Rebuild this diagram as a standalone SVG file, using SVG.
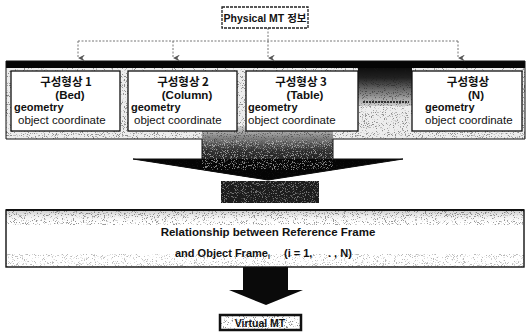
<svg xmlns="http://www.w3.org/2000/svg" width="527" height="333" viewBox="0 0 527 333">
<defs>
<style>
.t{font-family:"Liberation Sans",Arial,"Noto Sans CJK KR",sans-serif;font-size:11px;fill:#111}
.b{font-weight:bold}
.k{font-family:"Noto Sans CJK KR","Liberation Sans",sans-serif;font-size:11.5px;fill:#111;font-weight:bold}
.box{fill:#fff;stroke:#111;stroke-width:1.3}
.dash{fill:none;stroke:#777;stroke-width:1;stroke-dasharray:2 1.5}
</style>
<filter id="speck" filterUnits="objectBoundingBox" x="0" y="0" width="1" height="1" color-interpolation-filters="sRGB">
<feTurbulence type="fractalNoise" baseFrequency="1.1" numOctaves="2" seed="7"/>
<feColorMatrix type="matrix" values="0 0 0 0 0.1  0 0 0 0 0.1  0 0 0 0 0.1  0 0 0 9 -5.3"/>
<feComposite in2="SourceAlpha" operator="in"/>
</filter>
<filter id="lspeck" filterUnits="objectBoundingBox" x="0" y="0" width="1" height="1" color-interpolation-filters="sRGB">
<feTurbulence type="fractalNoise" baseFrequency="1.1" numOctaves="2" seed="3"/>
<feColorMatrix type="matrix" values="0 0 0 0 0.85  0 0 0 0 0.85  0 0 0 0 0.85  0 0 0 9 -5.0"/>
<feComposite in2="SourceAlpha" operator="in"/>
</filter>
<linearGradient id="stem" x1="0" y1="0" x2="0" y2="1">
<stop offset="0" stop-color="#cfcfcf"/>
<stop offset="0.45" stop-color="#333"/>
<stop offset="1" stop-color="#050505"/>
</linearGradient>
<linearGradient id="gap" x1="0" y1="0" x2="0" y2="1">
<stop offset="0" stop-color="#0a0a0a"/>
<stop offset="0.3" stop-color="#222"/>
<stop offset="1" stop-color="#cfcfcf"/>
</linearGradient>
<linearGradient id="band" x1="0" y1="0" x2="0" y2="1">
<stop offset="0" stop-color="#ccc"/>
<stop offset="0.5" stop-color="#eee"/>
<stop offset="1" stop-color="#fff"/>
</linearGradient>
<marker id="ah" viewBox="0 0 8 8" refX="4" refY="8" markerWidth="7" markerHeight="7" orient="auto-start-reverse" markerUnits="userSpaceOnUse">
<path d="M0,0 L4,8 L8,0 L4,3 Z" fill="#555"/>
</marker>
</defs>

<g id="panel">
<path d="M6,61 H525 V139 H333 V159 H403 L268,180 L133,159 H202 V139 H6 Z" fill="#ededed"/>
<path d="M202,126 H333 V159 H403 L268,180 L133,159 H202 Z" fill="url(#stem)"/>
<path d="M133,159 H403 L268,180 Z" fill="#050505"/>
<rect x="358" y="66" width="54" height="40" fill="url(#gap)"/>
<path d="M6,61 H525 V139 H333 V159 H403 L268,180 L133,159 H202 V139 H6 Z" fill="#fff" filter="url(#speck)" opacity="0.45"/>
<path d="M202,140 H333 V170 H202 Z" fill="#fff" filter="url(#lspeck)" opacity="0.6"/>
<rect x="6" y="61" width="519" height="7" fill="#050505"/>
<path d="M6,61 H525 V139 H333 V159 H403 L268,180 L133,159 H202 V139 H6 Z" fill="none" stroke="#111" stroke-width="1"/>
<line x1="363" y1="102" x2="409" y2="102" stroke="#333" stroke-width="2" stroke-dasharray="2 1"/>
</g>

<g id="connectors">
<rect x="221" y="181" width="98" height="22" fill="#1c1c1c"/>
<rect x="221" y="181" width="98" height="22" fill="#fff" filter="url(#lspeck)" opacity="0.45"/>
<line x1="268" y1="28" x2="268" y2="41" class="dash"/>
<line x1="78" y1="41" x2="458" y2="41" class="dash"/>
<line x1="78" y1="41" x2="78" y2="58" class="dash" marker-end="url(#ah)"/>
<line x1="173" y1="41" x2="173" y2="58" class="dash" marker-end="url(#ah)"/>
<line x1="268" y1="41" x2="268" y2="58" class="dash" marker-end="url(#ah)"/>
<line x1="458" y1="41" x2="458" y2="58" class="dash" marker-end="url(#ah)"/>
<path d="M243,267 H288 V290 H303 L266,305 L229,290 H243 Z" fill="#0a0a0a"/>
</g>

<g id="node-physical">
<rect x="222" y="7" width="86" height="21" fill="#fff" stroke="#222" stroke-width="1.3" stroke-dasharray="3 1"/>
<text x="265" y="22" text-anchor="middle" class="t b" style="font-size:10.5px">Physical MT <tspan class="k" style="font-size:10.5px">정보</tspan></text>
</g>

<g id="node-part1">
<rect x="11" y="71" width="109" height="60" class="box"/>
<text x="66" y="86" text-anchor="middle" class="k">구성형상 1</text>
<text x="70" y="99" text-anchor="middle" class="t b" style="font-size:11.5px">(Bed)</text>
<text x="14" y="111" class="t b">geometry</text>
<text x="18" y="124" class="t" style="font-size:11.5px">object coordinate</text>
</g>

<g id="node-part2">
<rect x="128" y="71" width="109" height="60" class="box"/>
<text x="183" y="86" text-anchor="middle" class="k">구성형상 2</text>
<text x="187" y="99" text-anchor="middle" class="t b" style="font-size:11.5px">(Column)</text>
<text x="131" y="111" class="t b">geometry</text>
<text x="134" y="124" class="t" style="font-size:11.5px">object coordinate</text>
</g>

<g id="node-part3">
<rect x="246" y="71" width="112" height="60" class="box"/>
<text x="301" y="86" text-anchor="middle" class="k">구성형상 3</text>
<text x="305" y="99" text-anchor="middle" class="t b" style="font-size:11.5px">(Table)</text>
<text x="248" y="111" class="t b">geometry</text>
<text x="248" y="124" class="t" style="font-size:11.5px">object coordinate</text>
</g>

<g id="node-partN">
<rect x="412" y="71" width="110" height="60" class="box"/>
<text x="468" y="86" text-anchor="middle" class="k">구성형상</text>
<text x="476" y="99" text-anchor="middle" class="t b" style="font-size:11.5px">(N)</text>
<text x="425" y="111" class="t b">geometry</text>
<text x="425" y="124" class="t" style="font-size:11.5px">object coordinate</text>
</g>

<g id="node-relationship">
<rect x="6" y="210" width="518" height="57" fill="#fff"/>
<rect x="6" y="210" width="518" height="12" fill="url(#band)"/>
<rect x="6" y="210" width="518" height="15" fill="#fff" filter="url(#speck)" opacity="0.45"/>
<rect x="6" y="254" width="518" height="13" fill="#fff" filter="url(#speck)" opacity="0.3"/>
<rect x="6" y="210" width="518" height="57" fill="none" stroke="#111" stroke-width="1.4"/>
<line x1="6" y1="210" x2="524" y2="210" stroke="#111" stroke-width="2"/>
<text x="268" y="236" text-anchor="middle" class="t b" style="font-size:11.5px">Relationship between Reference Frame</text>
<text x="175" y="257" class="t b" style="font-size:11px">and Object Frame<tspan dy="2" style="font-size:7px">i</tspan><tspan x="284" y="257">(i = 1,</tspan><tspan x="328" y="257">. , N)</tspan></text>
</g>

<g id="node-virtual">
<rect x="220" y="315" width="81" height="15" fill="#fff" stroke="#111" stroke-width="2.5"/>
<rect x="221" y="316" width="79" height="13" fill="#fff" filter="url(#speck)" opacity="0.5"/>
<text x="260" y="326.5" text-anchor="middle" class="t b" style="font-size:10.5px">Virtual MT</text>
</g>
</svg>
